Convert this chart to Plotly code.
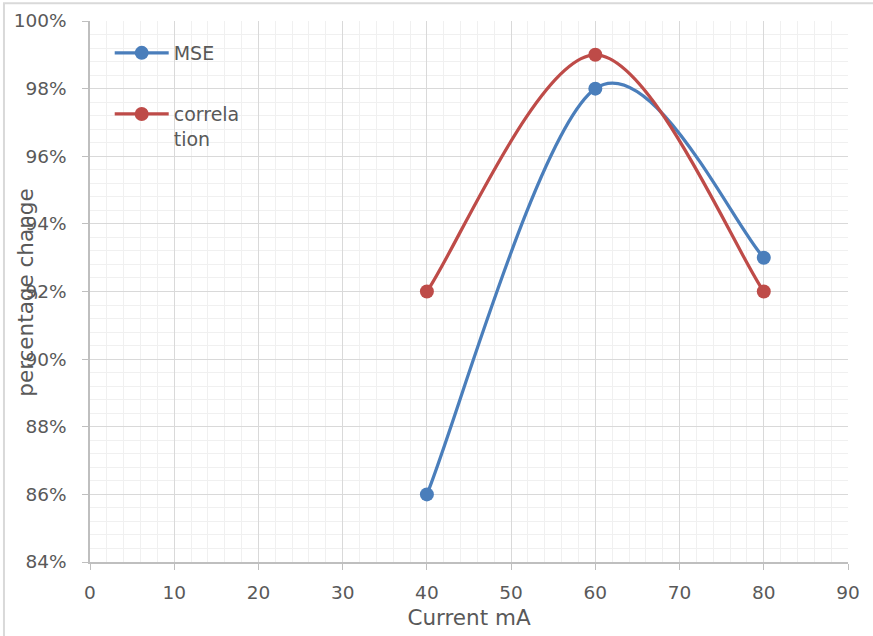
import plotly.graph_objects as go

# Data
current_ma = [40, 60, 80]
mse = [0.86, 0.98, 0.93]
correlation = [0.92, 0.99, 0.92]

x_ticks = [0, 10, 20, 30, 40, 50, 60, 70, 80, 90]
y_ticks = [0.84, 0.86, 0.88, 0.90, 0.92, 0.94, 0.96, 0.98, 1.00]

BLUE = "#4a7ebb"
RED = "#be4b48"
FONT = "'DejaVu Sans', sans-serif"
TEXT_GRAY = "#595959"


def smooth_path(xs, ys):
    """Cubic Bezier path through the points (Catmull-Rom style, 1/6 tangents),
    expressed in data coordinates so the axes do the scaling."""
    n = len(xs)
    pts = list(zip(xs, ys))
    d = f"M {pts[0][0]},{pts[0][1]}"
    for i in range(n - 1):
        p_prev = pts[i - 1] if i > 0 else pts[i]
        p0 = pts[i]
        p1 = pts[i + 1]
        p_next = pts[i + 2] if i + 2 < n else pts[i + 1]
        c1 = (p0[0] + (p1[0] - p_prev[0]) / 6, p0[1] + (p1[1] - p_prev[1]) / 6)
        c2 = (p1[0] - (p_next[0] - p0[0]) / 6, p1[1] - (p_next[1] - p0[1]) / 6)
        d += f" C {c1[0]},{c1[1]} {c2[0]},{c2[1]} {p1[0]},{p1[1]}"
    return d


series = [
    ("MSE", mse, BLUE, "legend"),
    ("correla<br>tion", correlation, RED, "legend2"),
]

fig = go.Figure()
shapes = []
for name, values, color, legend_id in series:
    # smoothed connecting line
    shapes.append(dict(
        type="path", xref="x", yref="y", path=smooth_path(current_ma, values),
        line=dict(color=color, width=3.25), layer="between",
    ))
    # data points
    fig.add_trace(go.Scatter(
        x=current_ma, y=values, mode="markers", showlegend=False,
        marker=dict(color=color, size=14), hoverinfo="x+y",
    ))
    # legend entry (line + marker symbol)
    fig.add_trace(go.Scatter(
        x=[None], y=[None], name=name, mode="lines+markers", legend=legend_id,
        line=dict(color=color, width=3.25), marker=dict(color=color, size=14),
    ))

# chart-area border
shapes.append(dict(
    type="rect", xref="paper", yref="paper",
    x0=-0.1135, x1=1.3, y0=-0.3, y1=1.033,
    line=dict(color="#d9d9d9", width=2), fillcolor="rgba(0,0,0,0)",
    layer="below",
))

legend_style = dict(
    xanchor="left", yanchor="top", valign="top", itemwidth=54,
    bgcolor="rgba(0,0,0,0)", font=dict(size=19, color=TEXT_GRAY, family=FONT),
)

fig.update_layout(
    width=873, height=636,
    margin=dict(l=90, r=25, t=21, b=74),
    paper_bgcolor="white", plot_bgcolor="white",
    font=dict(family=FONT, size=18.5, color=TEXT_GRAY),
    showlegend=True,
    legend=dict(x=0.026, y=0.976, **legend_style),
    legend2=dict(x=0.026, y=0.863, **legend_style),
    xaxis=dict(
        range=[0, 90], tickvals=x_ticks, ticktext=[str(v) for v in x_ticks],
        showgrid=True, gridcolor="#d9d9d9", gridwidth=1,
        minor=dict(dtick=2, showgrid=True, gridcolor="#f0f0f0", gridwidth=1),
        showline=True, linecolor="#bfbfbf", linewidth=1.5,
        ticks="outside", ticklen=6, tickcolor="#bfbfbf",
        tickfont=dict(size=18.5, color=TEXT_GRAY),
        ticklabelstandoff=7,
        title=dict(text="Current mA", font=dict(size=21.5, color=TEXT_GRAY), standoff=8),
        zeroline=False, automargin=False,
    ),
    yaxis=dict(
        range=[0.84, 1.00], tickvals=y_ticks, tickformat=".0%",
        showgrid=True, gridcolor="#d9d9d9", gridwidth=1,
        minor=dict(dtick=0.004, showgrid=True, gridcolor="#f0f0f0", gridwidth=1),
        showline=True, linecolor="#bfbfbf", linewidth=1.5,
        ticks="outside", ticklen=6, tickcolor="#bfbfbf",
        tickfont=dict(size=18.5, color=TEXT_GRAY),
        ticklabelstandoff=12,
        zeroline=False, automargin=False,
    ),
    annotations=[dict(
        text="percentage change", xref="paper", yref="paper",
        x=-0.085, y=0.497, xanchor="center", yanchor="middle",
        textangle=-90, showarrow=False,
        font=dict(size=21.5, color=TEXT_GRAY),
    )],
    shapes=shapes,
)

fig.write_html("out.html")
